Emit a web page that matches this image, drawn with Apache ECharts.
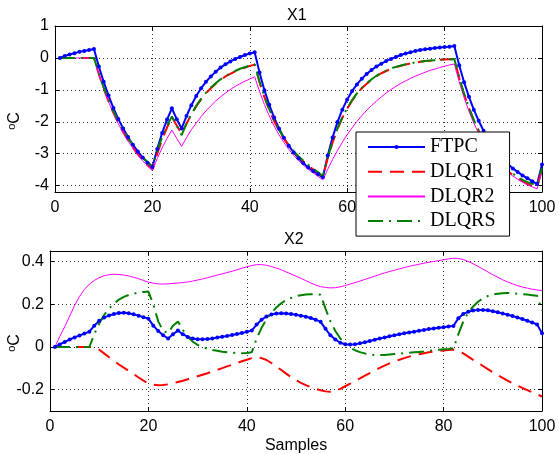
<!DOCTYPE html>
<html>
<head>
<meta charset="utf-8">
<title>X1 / X2</title>
<script src="https://cdn.jsdelivr.net/npm/echarts@6/dist/echarts.min.js"></script>
<style>
  html, body { margin: 0; padding: 0; background: #fff; }
  #chart { width: 559px; height: 454px; }
</style>
</head>
<body>
<div id="chart"></div>
<script>
// ---- state X1, samples 1..100 ----
const x1FTPC = [
  0, 0.06, 0.11, 0.15, 0.19, 0.22, 0.25, 0.28,
  -0.27, -0.75, -1.18, -1.57, -1.91, -2.21, -2.48, -2.72, -2.93, -3.12, -3.28, -3.42,
  -2.85, -2.35, -1.93, -1.58, -1.92, -2.21,
  -1.82, -1.48, -1.19, -0.95, -0.75, -0.58, -0.43, -0.30, -0.20, -0.11, -0.03, 0.03, 0.09, 0.14, 0.18,
  -0.46, -1.01, -1.47, -1.87, -2.21, -2.50, -2.75, -2.96, -3.14, -3.30, -3.43, -3.54, -3.64, -3.74,
  -3.06, -2.49, -2.01, -1.62, -1.30, -1.04, -0.83, -0.65, -0.50, -0.38, -0.27, -0.18, -0.10, -0.03,
  0.03, 0.09, 0.14, 0.18, 0.22, 0.25, 0.27, 0.29, 0.31, 0.33, 0.34, 0.35, 0.37,
  -0.23, -0.76, -1.22, -1.62, -1.97, -2.28, -2.55, -2.78, -2.98, -3.16, -3.32, -3.46, -3.57, -3.68,
  -3.77, -3.86, -3.95,
  -3.34
];
const x1DLQR1 = [
  0, 0, 0, 0, 0, 0, 0, 0,
  -0.51, -0.96, -1.36, -1.72, -2.04, -2.33, -2.58, -2.81, -3.02, -3.20, -3.36, -3.50,
  -3.00, -2.55, -2.18, -1.85, -2.12, -2.38,
  -2.06, -1.77, -1.51, -1.30, -1.11, -0.95, -0.81, -0.69, -0.58, -0.50, -0.42, -0.35, -0.30, -0.25, -0.21,
  -0.76, -1.23, -1.63, -1.98, -2.28, -2.53, -2.75, -2.94, -3.10, -3.24, -3.37, -3.49, -3.60, -3.72,
  -3.14, -2.65, -2.23, -1.88, -1.59, -1.34, -1.13, -0.95, -0.81, -0.68, -0.57, -0.48, -0.41, -0.34,
  -0.29, -0.25, -0.21, -0.17, -0.15, -0.12, -0.10, -0.09, -0.07, -0.06, -0.05, -0.04, -0.04,
  -0.63, -1.14, -1.58, -1.96, -2.29, -2.58, -2.83, -3.05, -3.24, -3.40, -3.55, -3.67, -3.78, -3.87,
  -3.95, -4.01, -4.05,
  -3.47
];
const x1DLQR2 = [
  0, 0, 0, 0, 0, 0, 0, 0,
  -0.52, -0.98, -1.38, -1.74, -2.06, -2.35, -2.60, -2.83, -3.04, -3.22, -3.38, -3.52,
  -3.15, -2.82, -2.52, -2.26, -2.52, -2.77,
  -2.50, -2.25, -2.04, -1.84, -1.66, -1.50, -1.35, -1.22, -1.10, -0.99, -0.89, -0.81, -0.73, -0.66, -0.59,
  -1.05, -1.46, -1.82, -2.13, -2.41, -2.65, -2.86, -3.05, -3.22, -3.36, -3.49, -3.60, -3.71, -3.82,
  -3.49, -3.18, -2.90, -2.64, -2.40, -2.19, -1.99, -1.81, -1.64, -1.49, -1.35, -1.22, -1.10, -0.99,
  -0.89, -0.80, -0.72, -0.64, -0.57, -0.51, -0.45, -0.39, -0.35, -0.30, -0.26, -0.22, -0.19,
  -0.75, -1.24, -1.67, -2.04, -2.36, -2.64, -2.88, -3.09, -3.28, -3.44, -3.58, -3.70, -3.80, -3.89,
  -3.97, -4.04, -4.10,
  -3.55
];
const x1DLQRS = [
  0, 0, 0, 0, 0, 0, 0, 0,
  -0.48, -0.92, -1.31, -1.66, -1.98, -2.26, -2.51, -2.73, -2.93, -3.11, -3.26, -3.40,
  -2.92, -2.48, -2.13, -1.83, -2.12, -2.42,
  -2.06, -1.76, -1.50, -1.28, -1.09, -0.93, -0.79, -0.67, -0.57, -0.48, -0.41, -0.34, -0.29, -0.24, -0.20,
  -0.74, -1.21, -1.61, -1.96, -2.26, -2.51, -2.73, -2.92, -3.08, -3.22, -3.35, -3.47, -3.58, -3.70,
  -3.12, -2.63, -2.21, -1.86, -1.57, -1.32, -1.11, -0.94, -0.80, -0.67, -0.56, -0.47, -0.40, -0.33,
  -0.28, -0.24, -0.20, -0.17, -0.14, -0.12, -0.10, -0.08, -0.07, -0.06, -0.05, -0.04, -0.03,
  -0.61, -1.12, -1.56, -1.94, -2.27, -2.56, -2.81, -3.02, -3.21, -3.37, -3.51, -3.63, -3.73, -3.82,
  -3.89, -3.94, -3.98,
  -3.45
];

// ---- state X2, samples 1..100 ----
const x2FTPC = [
  0, 0.012, 0.024, 0.035, 0.045, 0.054, 0.063, 0.072, 0.1, 0.123,
  0.138, 0.148, 0.155, 0.159, 0.16, 0.158, 0.153, 0.147, 0.14, 0.133,
  0.1, 0.075, 0.055, 0.04, 0.06, 0.077, 0.06, 0.047, 0.04, 0.036,
  0.036, 0.037, 0.04, 0.044, 0.048, 0.052, 0.056, 0.061, 0.066, 0.071,
  0.077, 0.105, 0.128, 0.143, 0.152, 0.157, 0.158, 0.157, 0.155, 0.151,
  0.147, 0.142, 0.136, 0.128, 0.118, 0.085, 0.055, 0.035, 0.02, 0.013,
  0.012, 0.013, 0.017, 0.022, 0.028, 0.034, 0.04, 0.045, 0.05, 0.055,
  0.06, 0.064, 0.068, 0.072, 0.076, 0.08, 0.084, 0.087, 0.09, 0.093,
  0.096, 0.099, 0.135, 0.155, 0.165, 0.171, 0.174, 0.174, 0.172, 0.168,
  0.163, 0.157, 0.151, 0.145, 0.138, 0.131, 0.123, 0.115, 0.106, 0.064
];
const x2DLQR1 = [
  0, 0, 0, 0, 0, 0, 0, 0, -0.005, -0.013,
  -0.03, -0.048, -0.065, -0.082, -0.097, -0.112, -0.127, -0.143, -0.158, -0.171,
  -0.177, -0.179, -0.178, -0.175, -0.17, -0.164, -0.158, -0.151, -0.144, -0.137,
  -0.13, -0.123, -0.115, -0.107, -0.099, -0.091, -0.083, -0.075, -0.067, -0.06,
  -0.052, -0.048, -0.052, -0.061, -0.075, -0.091, -0.108, -0.125, -0.141, -0.156,
  -0.168, -0.179, -0.188, -0.196, -0.203, -0.208, -0.21, -0.205, -0.196, -0.184,
  -0.172, -0.159, -0.147, -0.134, -0.122, -0.11, -0.098, -0.087, -0.077, -0.068,
  -0.06, -0.052, -0.045, -0.039, -0.034, -0.029, -0.025, -0.022, -0.019, -0.016,
  -0.014, -0.012, -0.018, -0.03, -0.045, -0.06, -0.074, -0.089, -0.104, -0.118,
  -0.132, -0.145, -0.158, -0.17, -0.181, -0.192, -0.202, -0.212, -0.222, -0.232
];
const x2DLQR2 = [
  0, 0.05, 0.095, 0.145, 0.195, 0.237, 0.27, 0.295, 0.312, 0.325,
  0.334, 0.339, 0.341, 0.34, 0.337, 0.333, 0.327, 0.32, 0.312, 0.304,
  0.299, 0.296, 0.295, 0.296, 0.298, 0.3, 0.302, 0.305, 0.309, 0.314,
  0.319, 0.325, 0.331, 0.337, 0.343, 0.349, 0.355, 0.362, 0.369, 0.376,
  0.382, 0.386, 0.386, 0.383, 0.377, 0.37, 0.362, 0.352, 0.342, 0.332,
  0.322, 0.311, 0.3, 0.29, 0.283, 0.279, 0.277, 0.278, 0.282, 0.288,
  0.295, 0.302, 0.309, 0.317, 0.324, 0.332, 0.34, 0.347, 0.354, 0.36,
  0.366, 0.372, 0.378, 0.383, 0.388, 0.393, 0.397, 0.401, 0.405, 0.409,
  0.413, 0.416, 0.415, 0.41, 0.401, 0.39, 0.378, 0.365, 0.352, 0.339,
  0.327, 0.315, 0.305, 0.296, 0.288, 0.281, 0.276, 0.271, 0.267, 0.265
];
const x2DLQRS = [
  0, 0, 0, 0, 0, 0, 0, 0, 0.06, 0.11,
  0.15, 0.18, 0.203, 0.222, 0.235, 0.244, 0.25, 0.255, 0.258, 0.26,
  0.2, 0.12, 0.075, 0.065, 0.1, 0.12, 0.08, 0.048, 0.025, 0.01,
  0, -0.008, -0.014, -0.018, -0.022, -0.025, -0.027, -0.028, -0.029, -0.028,
  -0.025, 0.04, 0.09, 0.13, 0.16, 0.185, 0.205, 0.22, 0.23, 0.238,
  0.243, 0.246, 0.247, 0.247, 0.245, 0.18, 0.12, 0.075, 0.04, 0.015,
  -0.003, -0.015, -0.024, -0.03, -0.035, -0.038, -0.038, -0.037, -0.035, -0.033,
  -0.031, -0.029, -0.027, -0.025, -0.023, -0.021, -0.018, -0.015, -0.013, -0.011,
  -0.009, -0.006, 0.06, 0.12, 0.16, 0.19, 0.212, 0.228, 0.239, 0.246,
  0.25, 0.252, 0.253, 0.252, 0.25, 0.248, 0.246, 0.243, 0.24, 0.17
];

const seriesNames = ['FTPC', 'DLQR1', 'DLQR2', 'DLQRS'];
const xTicks = [0, 20, 40, 60, 80, 100];
const yTicksX1 = [-4, -3, -2, -1, 0, 1];
const yTicksX2 = [-0.2, 0, 0.2, 0.4];

const sans = 'Liberation Sans, Arial, sans-serif';
const serif = 'Liberation Serif, Times New Roman, serif';

// pair each value with its sample number (1-based)
const toPoints = vals => vals.map((v, i) => [i + 1, v]);

// only print labels at the listed tick values
const tickFormatter = ticks => v => {
  const t = ticks.find(t => Math.abs(t - v) < 1e-9);
  return t === undefined ? '' : String(t);
};

const gridLine = { show: true, lineStyle: { color: '#333', width: 1, type: [1, 3] } };
const frameLine = { show: true, onZero: false, lineStyle: { color: '#000', width: 1 } };
const innerTick = { show: true, inside: true, length: 4, lineStyle: { color: '#000', width: 1 } };
const tickText = { color: '#000', fontFamily: sans, fontSize: 16 };

function xAxes(gridIndex, extra) {
  const base = { type: 'value', gridIndex, min: 0, max: 100, interval: 20,
                 axisLine: frameLine, axisTick: innerTick };
  return [
    Object.assign({}, base, {
      position: 'bottom',
      axisLabel: Object.assign({ margin: 8, formatter: tickFormatter(xTicks) }, tickText),
      splitLine: gridLine
    }, extra || {}),
    Object.assign({}, base, { position: 'top', axisLabel: { show: false }, splitLine: { show: false } })
  ];
}

function yAxes(gridIndex, min, max, ticks, nameGap) {
  const base = { type: 'value', gridIndex, min, max, splitNumber: 4,
                 axisLine: frameLine, axisTick: innerTick };
  return [
    Object.assign({}, base, {
      position: 'left',
      axisLabel: Object.assign({ margin: 6, formatter: tickFormatter(ticks) }, tickText),
      splitLine: gridLine,
      name: '{o|o}{c|C}',
      nameLocation: 'middle',
      nameGap,
      nameMoveOverlap: false,
      nameRotate: 90,
      nameTextStyle: {
        color: '#000', fontFamily: sans, padding: [0, 24, 0, 0],
        rich: {
          o: { fontFamily: sans, fontSize: 11, lineHeight: 11, verticalAlign: 'top', color: '#000' },
          c: { fontFamily: sans, fontSize: 16, lineHeight: 18, color: '#000' }
        }
      }
    }),
    Object.assign({}, base, { position: 'right', axisLabel: { show: false }, splitLine: { show: false } })
  ];
}

const styles = {
  FTPC:  { color: '#0000ff', width: 2, type: 'solid', symbol: 'circle', symbolSize: 4 },
  DLQR1: { color: '#ff0000', width: 2, type: [14, 8], symbol: 'none' },
  DLQR2: { color: '#ff00ff', width: 1, type: 'solid', symbol: 'none' },
  DLQRS: { color: '#008000', width: 2, type: [15, 6, 2, 6], symbol: 'none' }
};

function makeSeries(name, vals, axisIndex) {
  const s = styles[name];
  return {
    name, type: 'line', xAxisIndex: axisIndex, yAxisIndex: axisIndex,
    data: toPoints(vals),
    symbol: s.symbol, symbolSize: s.symbolSize || 0, showAllSymbol: true,
    itemStyle: { color: s.color },
    lineStyle: { color: s.color, width: s.width, type: s.type },
    emphasis: { disabled: true },
    animation: false
  };
}

// legend entries: only the marker-carrying series shows a dot on its sample line
const legendItems = seriesNames.map(name =>
  styles[name].symbol === 'none' ? { name, itemStyle: { opacity: 0 } } : { name });

const chart = echarts.init(document.getElementById('chart'), null, { renderer: 'canvas' });

chart.setOption({
  backgroundColor: '#fff',
  animation: false,
  title: [
    { text: 'X1', left: 287, top: 8, padding: 0,
      textStyle: { fontFamily: sans, fontSize: 16, fontWeight: 'normal', color: '#000' } },
    { text: 'X2', left: 284, top: 232, padding: 0,
      textStyle: { fontFamily: sans, fontSize: 16, fontWeight: 'normal', color: '#000' } }
  ],
  grid: [
    { left: 55, right: 17, top: 26, height: 166, show: false, containLabel: false, outerBoundsMode: 'none' },
    { left: 50, right: 17, top: 251, height: 160, show: false, containLabel: false, outerBoundsMode: 'none' }
  ],
  xAxis: [].concat(
    xAxes(0),
    xAxes(1, { name: 'Samples', nameLocation: 'middle', nameGap: 27, nameMoveOverlap: false,
               nameTextStyle: { color: '#000', fontFamily: sans, fontSize: 16 } })
  ),
  yAxis: [].concat(
    yAxes(0, -4.2, 1, yTicksX1, 31),
    yAxes(1, -0.3, 0.45, yTicksX2, 26)
  ),
  legend: {
    data: legendItems,
    orient: 'vertical',
    left: 356, top: 132,
    backgroundColor: '#fff',
    borderColor: '#000', borderWidth: 1,
    padding: [5, 14, 5, 11],
    itemWidth: 57, itemHeight: 5, itemGap: 4.7,
    selectedMode: false,
    textStyle: { fontFamily: serif, fontSize: 20, lineHeight: 20, color: '#000' },
    z: 10
  },
  series: [
    makeSeries('FTPC', x1FTPC, 0),
    makeSeries('DLQR1', x1DLQR1, 0),
    makeSeries('DLQR2', x1DLQR2, 0),
    makeSeries('DLQRS', x1DLQRS, 0),
    makeSeries('FTPC', x2FTPC, 2),
    makeSeries('DLQR1', x2DLQR1, 2),
    makeSeries('DLQR2', x2DLQR2, 2),
    makeSeries('DLQRS', x2DLQRS, 2)
  ]
});
</script>
</body>
</html>
